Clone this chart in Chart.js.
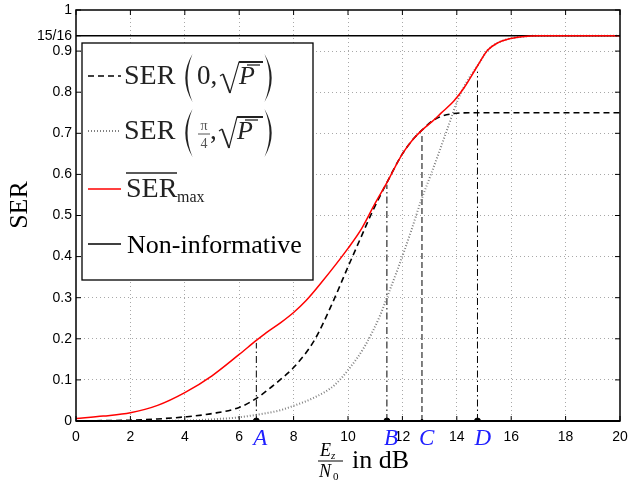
<!DOCTYPE html>
<html lang="en">
<head>
<meta charset="utf-8">
<title>SER vs Ez/N0</title>
<script src="https://cdn.jsdelivr.net/npm/chart.js"></script>
<style>
  html, body { margin: 0; padding: 0; background: #fff; }
  #wrap { width: 629px; height: 480px; }
</style>
</head>
<body>
<div id="wrap"><canvas id="serChart" width="629" height="480"></canvas></div>
<script>
// values (x in dB, y = SER)
const serMaxX = [0, 1, 2, 3, 4, 5, 6, 6.63, 7, 7.54, 8, 8.46, 9, 10, 10.5, 11, 11.43, 12, 12.4, 12.74, 13.1, 13.42, 13.9, 14.28, 14.77, 15.13, 15.5, 15.87, 16.4, 17, 20];
const serMaxY = [0.006, 0.012, 0.02, 0.038, 0.069, 0.11, 0.162, 0.196, 0.215, 0.24, 0.264, 0.293, 0.335, 0.42, 0.468, 0.53, 0.58, 0.65, 0.686, 0.709, 0.729, 0.749, 0.779, 0.812, 0.865, 0.902, 0.92, 0.929, 0.935, 0.9375, 0.9375];

const ser0X = [0, 1, 2, 3, 4, 5, 6, 6.63, 7, 7.5, 8, 8.76, 9.38, 10, 10.45, 10.9, 11.43, 12, 12.4, 12.74, 13.1, 13.42, 13.9, 14.5, 20];
const ser0Y = [0, 0.001, 0.002, 0.005, 0.01, 0.018, 0.033, 0.055, 0.073, 0.1, 0.13, 0.196, 0.28, 0.375, 0.443, 0.51, 0.58, 0.65, 0.686, 0.709, 0.73, 0.741, 0.748, 0.75, 0.75];

const serPi4X = [0, 2, 4, 5, 6, 6.63, 7, 7.5, 8, 8.76, 9.5, 10.05, 10.6, 11.2, 11.4, 11.83, 12.32, 12.68, 13.05, 13.3, 13.66, 14.03, 14.4, 14.77, 15.13, 15.5, 15.87, 16.4, 17, 20];
const serPi4Y = [0, 0, 0.001, 0.004, 0.009, 0.015, 0.019, 0.026, 0.037, 0.057, 0.087, 0.128, 0.18, 0.26, 0.295, 0.37, 0.462, 0.535, 0.6, 0.645, 0.712, 0.78, 0.829, 0.865, 0.902, 0.92, 0.929, 0.935, 0.9375, 0.9375];

const nonInfoX = [0, 20];
const nonInfoY = [15 / 16, 15 / 16];

const markerNames = ['A', 'B', 'C', 'D'];
const markerX = [6.63, 11.43, 12.72, 14.76];
const markerTop = [0.19, 0.575, 0.70, 0.85];

const yTickVals = [0, 0.1, 0.2, 0.3, 0.4, 0.5, 0.6, 0.7, 0.8, 0.9, 15 / 16, 1];
const yTickLabels = ['0', '0.1', '0.2', '0.3', '0.4', '0.5', '0.6', '0.7', '0.8', '0.9', '15/16', '1'];

const SERIF = '"Liberation Serif", "DejaVu Serif", serif';
const SANS = '"Liberation Sans", Arial, sans-serif';

const pts = (xs, ys) => xs.map((x, i) => ({ x: x, y: ys[i] }));

const datasets = [
  { data: pts(serMaxX, serMaxY), borderColor: '#ff0000', borderWidth: 1.5, order: 0, cubicInterpolationMode: 'monotone' },
  { data: pts(ser0X, ser0Y), borderColor: '#000', borderWidth: 1.6, borderDash: [6, 4], order: 2, cubicInterpolationMode: 'monotone' },
  { data: pts(serPi4X, serPi4Y), borderColor: '#808080', borderWidth: 2, borderDash: [1, 2], order: 3, cubicInterpolationMode: 'monotone' },
  { data: pts(nonInfoX, nonInfoY), borderColor: '#000', borderWidth: 1.5, order: 1 }
];
// vertical guide lines for A..D
const guideDash = [[7, 3, 1.5, 3], [7, 3, 1.5, 3], [6, 3], [7, 3, 1.5, 3]];
markerX.forEach((mx, i) => {
  datasets.push({ data: [{ x: mx, y: 0 }, { x: mx, y: markerTop[i] }], borderColor: '#000', borderWidth: 1, borderDash: guideDash[i], order: 4 });
});
datasets.push({
  data: markerX.map(mx => ({ x: mx, y: 0 })), showLine: false, order: -1,
  pointRadius: [3, 3, 1.5, 3], pointBackgroundColor: '#000', pointBorderColor: '#000'
});

const extras = {
  id: 'extras',
  afterDraw(chart) {
    const c = chart.ctx, a = chart.chartArea, xs = chart.scales.x, ys = chart.scales.y;
    c.save();
    // axes box
    c.strokeStyle = '#000';
    c.lineWidth = 1.5;
    c.strokeRect(a.left, a.top, a.right - a.left, a.bottom - a.top);
    c.lineWidth = 2;
    c.beginPath(); c.moveTo(a.left, a.bottom); c.lineTo(a.right, a.bottom); c.stroke();
    // inner tick marks
    c.lineWidth = 1;
    for (let v = 0; v <= 20; v += 2) {
      const px = xs.getPixelForValue(v);
      c.beginPath();
      c.moveTo(px, a.bottom); c.lineTo(px, a.bottom - 5);
      c.moveTo(px, a.top); c.lineTo(px, a.top + 5);
      c.stroke();
    }
    yTickVals.forEach(v => {
      const py = ys.getPixelForValue(v);
      c.beginPath();
      c.moveTo(a.left, py); c.lineTo(a.left + 5, py);
      c.moveTo(a.right, py); c.lineTo(a.right - 5, py);
      c.stroke();
    });
    // point labels A..D
    c.fillStyle = '#2020ff';
    c.font = 'italic 23px ' + SERIF;
    c.textAlign = 'left';
    c.textBaseline = 'alphabetic';
    markerNames.forEach((n, i) => c.fillText(n, xs.getPixelForValue(markerX[i]) - 3, a.bottom + 24));
    // y title
    c.fillStyle = '#000';
    c.textAlign = 'center';
    c.save();
    c.translate(27, 205);
    c.rotate(-Math.PI / 2);
    c.font = '26px ' + SERIF;
    c.fillText('SER', 0, 0);
    c.restore();
    // x title: Ez/N0 in dB
    c.textAlign = 'left';
    c.font = 'italic 18px ' + SERIF;
    c.fillText('E', 320, 456);
    c.fillText('N', 319, 477);
    c.font = 'italic 11px ' + SERIF;
    c.fillText('z', 331, 459);
    c.font = '11px ' + SERIF;
    c.fillText('0', 333, 480);
    c.lineWidth = 1;
    c.beginPath(); c.moveTo(318, 461); c.lineTo(343, 461); c.stroke();
    c.font = '26px ' + SERIF;
    c.fillText('in dB', 352, 468);
    // legend
    drawLegend(c);
    c.restore();
  }
};

// thin tall bracket, dir 1 = "(", -1 = ")"
function paren(c, x, top, bot, dir) {
  const mid = (top + bot) / 2, w = 9;
  const tip = x + dir * w / 2, bulge = x - dir * w * 1.1;
  c.beginPath();
  c.moveTo(tip, top);
  c.quadraticCurveTo(bulge, mid, tip, bot);
  c.quadraticCurveTo(bulge + dir * 4.4, mid, tip, top);
  c.fill();
}

function sqrtP(c, x, base, vx, vend) {
  c.lineWidth = 1.1;
  c.beginPath();
  c.moveTo(x, base - 8); c.lineTo(x + 3, base - 10);
  c.stroke();
  c.lineWidth = 1.8;
  c.beginPath(); c.moveTo(x + 3, base - 10); c.lineTo(x + 10, base + 9); c.stroke();
  c.lineWidth = 1.1;
  c.beginPath(); c.moveTo(x + 10, base + 9); c.lineTo(vx, base - 22); c.lineTo(vend, base - 22); c.stroke();
  c.lineWidth = 2;
  c.beginPath(); c.moveTo(vx, base - 22); c.lineTo(vend, base - 22); c.stroke();
  c.font = 'italic 26px ' + SERIF;
  c.fillText('P', vx, base);
  c.lineWidth = 1.3;
  c.beginPath(); c.moveTo(vx + 8, base - 19); c.lineTo(vx + 21, base - 19); c.stroke();
}

function drawLegend(c) {
  const L = 82, T = 43, W = 231, H = 237;
  c.fillStyle = '#fff';
  c.fillRect(L, T, W, H);
  c.strokeStyle = '#000';
  c.lineWidth = 1.3;
  c.strokeRect(L, T, W, H);
  const rows = [76, 131, 189, 244];
  const sample = (y, color, dash, w) => {
    c.save();
    c.strokeStyle = color; c.lineWidth = w; c.setLineDash(dash);
    c.beginPath(); c.moveTo(88, y); c.lineTo(121, y); c.stroke();
    c.restore();
  };
  sample(rows[0], '#000', [6, 4], 1.6);
  sample(rows[1], '#808080', [1, 2], 1.8);
  sample(rows[2], '#ff0000', [], 1.5);
  sample(rows[3], '#000', [], 1.5);
  c.textAlign = 'left';
  c.textBaseline = 'alphabetic';
  c.fillStyle = '#222';
  c.strokeStyle = '#222';
  // row 1: SER (0, sqrt(P))
  let b = rows[0] + 8;
  c.font = '28px ' + SERIF;
  c.fillText('SER', 124, b);
  paren(c, 188, b - 30, b + 18, 1);
  c.font = '27px ' + SERIF;
  c.fillText('0,', 197, b);
  sqrtP(c, 220, b, 239, 263);
  paren(c, 269, b - 30, b + 18, -1);
  // row 2: SER (pi/4, sqrt(P))
  b = rows[1] + 8;
  c.font = '28px ' + SERIF;
  c.fillText('SER', 124, b);
  paren(c, 188, b - 30, b + 18, 1);
  c.fillStyle = '#555';
  c.strokeStyle = '#555';
  c.font = '14px ' + SERIF;
  c.textAlign = 'center';
  c.fillText('\u03c0', 204, b - 9);
  c.fillText('4', 204, b + 9);
  c.textAlign = 'left';
  c.lineWidth = 1;
  c.beginPath(); c.moveTo(198, b - 5); c.lineTo(210, b - 5); c.stroke();
  c.fillStyle = '#222';
  c.strokeStyle = '#222';
  c.font = '27px ' + SERIF;
  c.fillText(',', 210, b);
  sqrtP(c, 219, b, 237, 263);
  paren(c, 269, b - 30, b + 18, -1);
  // row 3: overline SER with subscript max
  b = rows[2] + 8;
  c.font = '28px ' + SERIF;
  c.fillText('SER', 126, b);
  c.font = '16px ' + SERIF;
  c.fillText('max', 177, b + 5);
  c.lineWidth = 1.5;
  c.beginPath(); c.moveTo(126, b - 24); c.lineTo(177, b - 24); c.stroke();
  // row 4
  b = rows[3] + 9;
  c.fillStyle = '#000';
  c.font = '26px ' + SERIF;
  c.fillText('Non-informative', 127, b);
}

new Chart(document.getElementById('serChart'), {
  type: 'line',
  data: { datasets: datasets },
  options: {
    responsive: false,
    animation: false,
    elements: { point: { radius: 0 } },
    layout: { padding: { left: 0, right: 9, top: 10, bottom: 0 } },
    plugins: { legend: { display: false }, tooltip: { enabled: false } },
    scales: {
      x: {
        type: 'linear', min: 0, max: 20,
        afterFit: s => { s.height = 59; s.paddingLeft = 0; s.paddingRight = 0; },
        ticks: { stepSize: 2, color: '#000', padding: 8, maxRotation: 0, font: { family: SANS, size: 14 } },
        grid: {
          drawTicks: false, lineWidth: 1,
          color: ctx => (ctx.tick && (ctx.tick.value === 0 || ctx.tick.value === 20)) ? 'rgba(0,0,0,0)' : '#a8a8a8'
        },
        border: { display: false, dash: [1, 3] }
      },
      y: {
        min: 0, max: 1,
        afterFit: s => { s.width = 76; s.paddingTop = 0; s.paddingBottom = 0; },
        afterBuildTicks: axis => { axis.ticks = yTickVals.map(v => ({ value: v })); },
        ticks: {
          color: '#000', padding: 4, font: { family: SANS, size: 14 },
          callback: (v, i) => yTickLabels[i]
        },
        grid: {
          drawTicks: false, lineWidth: 1,
          color: ctx => (ctx.tick && (ctx.tick.value === 0 || ctx.tick.value >= 0.93)) ? 'rgba(0,0,0,0)' : '#a8a8a8'
        },
        border: { display: false, dash: [1, 3] }
      }
    }
  },
  plugins: [extras]
});
</script>
</body>
</html>
